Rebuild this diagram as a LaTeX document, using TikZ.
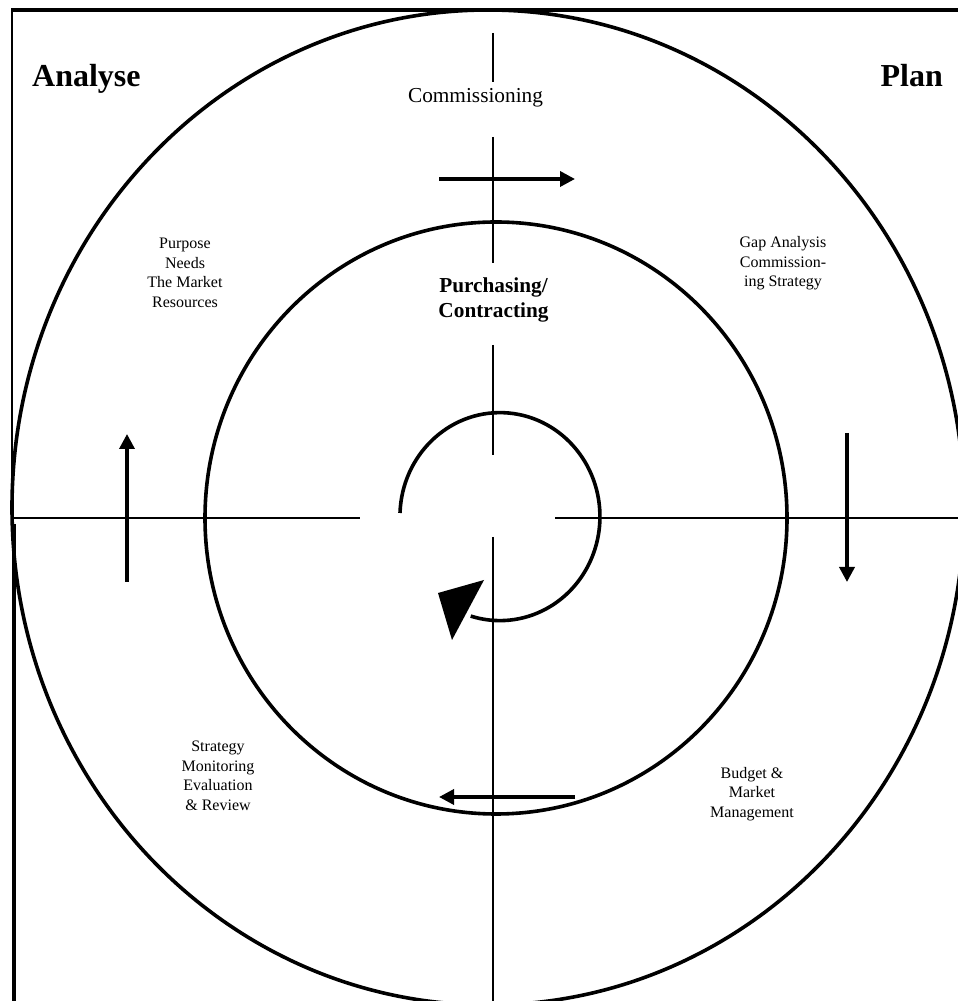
\documentclass[tikz,border=0pt]{standalone}
\usepackage{fontspec}
\setmainfont{Liberation Serif}
\usetikzlibrary{arrows.meta}
\begin{document}
\begin{tikzpicture}[x=1pt,y=1pt,
  ring/.style={line width=3.6pt},
  axisline/.style={line width=2pt},
  flow/.style={line width=3.5pt,-{Triangle[length=15pt,width=15pt]}},
  bigtitle/.style={font=\fontsize{32}{38}\selectfont\bfseries, inner sep=0},
  midlabel/.style={font=\fontsize{21.3}{25}\selectfont, inner sep=0, align=center},
  smalllabel/.style={font=\fontsize{16}{19.5}\selectfont, inner sep=0, align=center}]
\clip (0,0) rectangle (958,1001);
\fill[white] (0,0) rectangle (958,1001);
% frame
\draw[line width=3.5pt] (11,991) -- (958,991);
\draw[line width=2pt] (11.5,991) -- (11.5,502);
\draw[line width=4.5pt] (14,477) -- (14,-2);
% circles
\draw[ring] (488,493.5) ellipse [x radius=476, y radius=497.5];
\draw[ring] (496,483) ellipse [x radius=291, y radius=296];
% axes
\draw[axisline] (493,968) -- (493,919);
\draw[axisline] (493,864) -- (493,738);
\draw[axisline] (493,656) -- (493,546);
\draw[axisline] (493,464) -- (493,-2);
\draw[axisline] (12,483) -- (360,483);
\draw[axisline] (555,483) -- (960,483);
% centre cycle arrow
\draw[ring] (400,488) arc[start angle=178, end angle=-107, x radius=100, y radius=104];
\fill (438,408) -- (484,421) -- (452,361) -- cycle;
% flow arrows
\coordinate (t1) at (439,822); \coordinate (t2) at (575,822);
\coordinate (r1) at (847,568); \coordinate (r2) at (847,419);
\coordinate (b1) at (575,204); \coordinate (b2) at (439,204);
\coordinate (l1) at (127,419); \coordinate (l2) at (127,567);
\draw[flow] (t1) -- (t2);
\draw[flow] (r1) -- (r2);
\draw[flow] (b1) -- (b2);
\draw[flow] (l1) -- (l2);
% labels
\node[bigtitle, anchor=base west] (analyse) at (32,914) {Analyse};
\node[bigtitle, anchor=base east] (plan) at (943,914) {Plan};
\node[midlabel, anchor=base] (comm) at (475.5,898) {Commissioning};
\node[midlabel, font=\fontsize{21.3}{25}\selectfont\bfseries] (purch) at (493.5,701) {Purchasing/\\Contracting};
\node[smalllabel] (purpose) at (185,728) {Purpose\\Needs\\The Market\\Resources};
\node[smalllabel] (gap) at (783,737.5) {Gap Analysis\\Commission-\\ing Strategy};
\node[smalllabel] (strat) at (218,225) {Strategy\\Monitoring\\Evaluation\\\& Review};
\node[smalllabel] (budget) at (752,207) {Budget \&\\Market\\Management};
\end{tikzpicture}
\end{document}
